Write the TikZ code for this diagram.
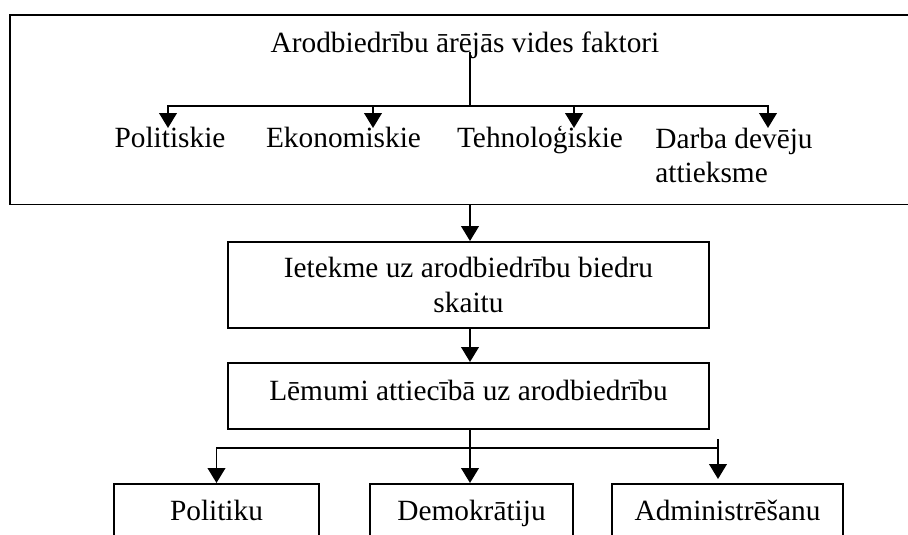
\documentclass[tikz,border=0pt]{standalone}
\usepackage{fontspec}
\setmainfont{Liberation Serif}
\usetikzlibrary{arrows.meta,positioning,calc}
\tikzset{
  lbl/.style={font=\fontsize{16.7}{19.5}\selectfont, inner sep=0pt},
  boxnd/.style={lbl, draw, line width=1.1pt, align=center},
  lowbox/.style={boxnd, anchor=north, text height=0.74cm, text depth=1.3cm},
  plainln/.style={line width=1.1pt, line cap=rect},
  arrln/.style={-{Triangle[length=8.5pt,width=10pt]}, line width=1.1pt},
}

\begin{document}
\begin{tikzpicture}
    \useasboundingbox (0,0) rectangle (18.16,10.68);
    % outer frame with the factors
    \node[boxnd, minimum width=18.3cm, minimum height=3.79cm] (outer) at (9.35,8.485) {};
    \node[lbl, anchor=base] (title) at (9.3,9.62) {Arodbiedrību ārējās vides faktori};
    \node[lbl, anchor=base] (pol) at (3.4,7.72) {Politiskie};
    \node[lbl, anchor=base] (eko) at (6.87,7.72) {Ekonomiskie};
    \node[lbl, anchor=base] (tech) at (10.8,7.72) {Tehnoloģiskie};
    \node[lbl, anchor=base west, align=left] (darba) at (13.1,7.02) {Darba devēju\\attieksme};
    \coordinate (topfork) at (9.4,8.56);
    \coordinate (tpol) at (3.36,8.12);
    \coordinate (teko) at (7.46,8.12);
    \coordinate (ttech) at (11.48,8.12);
    \coordinate (tdarba) at (15.36,8.12);
    \draw[plainln] (title.base -| topfork) -- (topfork);
    \draw[plainln] (tpol |- topfork) -- (tdarba |- topfork);
    \foreach \t in {tpol,teko,ttech,tdarba}
      \draw[arrln] (\t |- topfork) -- (\t);
    % middle chain
    \node[boxnd, minimum width=9.62cm, minimum height=1.72cm] (effect) at (9.37,4.98)
      {Ietekme uz arodbiedrību biedru\\skaitu};
    \node[boxnd, anchor=north, minimum width=9.62cm, text height=0.76cm, text depth=0.56cm]
      (decide) at (9.37,3.44) {Lēmumi attiecībā uz arodbiedrību};
    \draw[arrln] (outer.south -| topfork) -- (topfork |- effect.north);
    \draw[arrln] (effect.south -| topfork) -- (topfork |- decide.north);
    % lower boxes
    \node[lowbox, minimum width=4.1cm] (polit) at (4.33,1.02) {Politiku};
    \node[lowbox, minimum width=4.06cm] (demo) at (9.43,1.02) {Demokrātiju};
    \node[lowbox, minimum width=4.62cm] (admin) at (14.55,1.02) {Administrēšanu};
    \coordinate (lowfork) at (9.4,1.72);
    \coordinate (admtop) at (14.36,1.9);
    \coordinate (tadm) at (14.36,1.1);
    \draw[plainln] (polit.north |- lowfork) -- (admtop |- lowfork);
    \draw[arrln] (polit.north |- lowfork) -- (polit.north);
    \draw[arrln] (decide.south -| lowfork) -- (lowfork |- demo.north);
    \draw[arrln] (admtop) -- (tadm);
\end{tikzpicture}
\end{document}
